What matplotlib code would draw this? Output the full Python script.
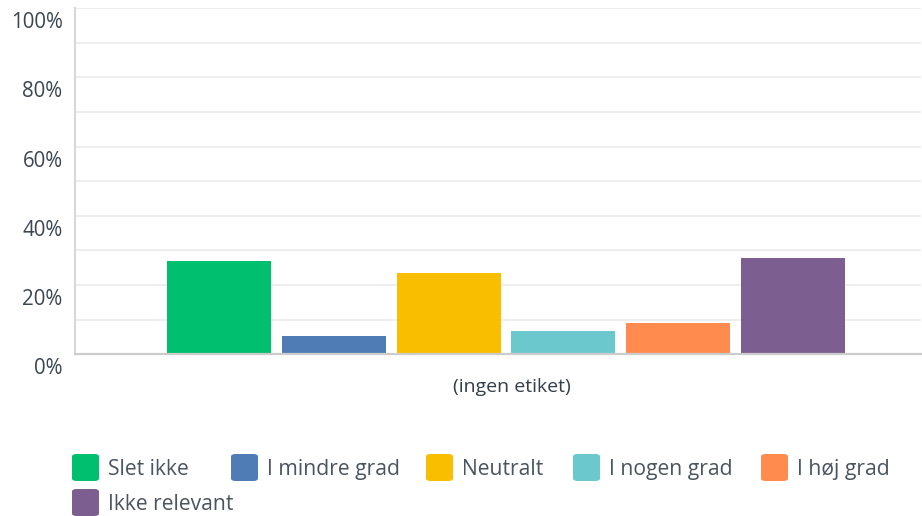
import matplotlib
matplotlib.use("Agg")
import matplotlib.pyplot as plt
import matplotlib.transforms as mtransforms
from matplotlib.patches import FancyBboxPatch

categories = ["Slet ikke", "I mindre grad", "Neutralt", "I nogen grad", "I høj grad", "Ikke relevant"]
values = [26.9, 5.3, 23.4, 6.8, 9.1, 27.8]
colors = ["#00bf6f", "#507cb6", "#f9be00", "#6bc8cd", "#ff8b4f", "#7d5e90"]
yticks = [0, 20, 40, 60, 80, 100]
ytick_labels = ["0%", "20%", "40%", "60%", "80%", "100%"]
xlabel = "(ingen etiket)"

W, H = 922, 516
fig = plt.figure(figsize=(W / 100, H / 100), dpi=100)
fig.patch.set_facecolor("white")

left, right, top, bottom = 75, 921, 8, 354.3
ax = fig.add_axes([left / W, (H - bottom) / H, (right - left) / W, (bottom - top) / H])

step = 114.8
xs = list(range(len(categories)))
ax.bar(xs, values, width=104 / step, color=colors, zorder=3)
ax.set_xlim((left - 219) / step, (right - 219) / step)
ax.set_ylim(0, 100)

for g in range(10, 101, 10):
    ax.axhline(g, color="#ebebeb", lw=1.2, zorder=1)

for s in ["top", "right"]:
    ax.spines[s].set_visible(False)
ax.spines["left"].set_color("#d8d8d8")
ax.spines["left"].set_linewidth(1.5)
ax.spines["bottom"].set_color("#cccccc")
ax.spines["bottom"].set_linewidth(1.6)
ax.spines["bottom"].set_zorder(4)

ax.set_xticks([])
ax.set_yticks(yticks)
ax.set_yticklabels(ytick_labels, fontsize=14.8, color="#3b4651", fontfamily="Open Sans")
ax.tick_params(axis="y", length=0, pad=9)
offset = mtransforms.ScaledTranslation(0, -12 / 100, fig.dpi_scale_trans)
for lab in ax.get_yticklabels():
    lab.set_transform(lab.get_transform() + offset)

fig.text(512 / W, (H - 387) / H, xlabel, ha="center", va="center",
         fontsize=14, color="#333e48", fontfamily="Open Sans")

legend_pos = [(72, 454), (231, 454), (426, 454), (573, 454), (761, 454), (72, 489)]
for (px, py), lab, c in zip(legend_pos, categories, colors):
    sz = 27
    p = FancyBboxPatch((px / W, (H - py - sz) / H), sz / W, sz / H,
                       boxstyle="round,pad=0,rounding_size=0.005",
                       transform=fig.transFigure, facecolor=c, edgecolor="none")
    fig.patches.append(p)
    fig.text((px + 36) / W, (H - py - sz / 2 - 2) / H, lab, ha="left", va="center",
             fontsize=15.2, color="#4a5561", fontfamily="Open Sans")

fig.savefig("out.png", dpi=100, facecolor="white")
